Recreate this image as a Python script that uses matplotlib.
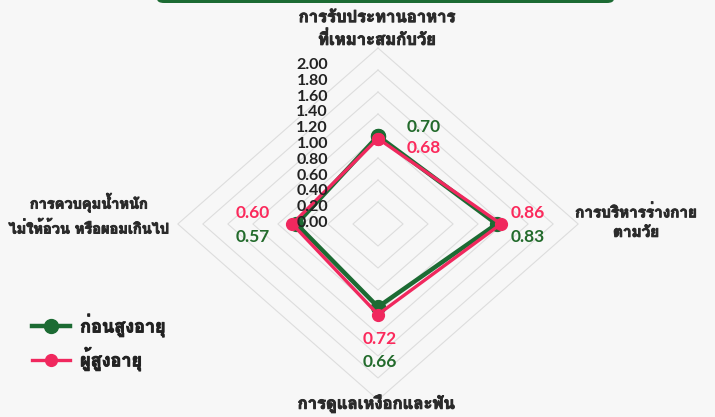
import numpy as np
import matplotlib
matplotlib.use('Agg')
import matplotlib.pyplot as plt
import matplotlib.patheffects as pe
from matplotlib import font_manager
from matplotlib.ft2font import FT2Font
from matplotlib.patches import FancyBboxPatch

# ข้อมูล
axes_names = ['การรับประทานอาหาร\nที่เหมาะสมกับวัย',
              'การบริหารร่างกาย\nตามวัย',
              'การดูแลเหงือกและฟัน',
              'การควบคุมน้ำหนัก\nไม่ให้อ้วน หรือผอมเกินไป']
series_names = ['ก่อนสูงอายุ', 'ผู้สูงอายุ']
before_old = [0.70, 0.83, 0.66, 0.57]
old_age = [0.68, 0.86, 0.72, 0.60]
scale_ticks = [0.00, 0.20, 0.40, 0.60, 0.80, 1.00, 1.20, 1.40, 1.60, 1.80, 2.00]

green = '#1c6b33'
pink = '#f0285e'
green_txt = '#236b2c'
pink_txt = '#fb2a5c'


# หาฟอนต์ที่มีอักษรไทย
def find_thai_font():
    best = None
    for f in font_manager.fontManager.ttflist:
        try:
            cmap = FT2Font(f.fname).get_charmap()
        except Exception:
            continue
        if 0x0E01 in cmap and 0x0E32 in cmap:
            score = 1 if f.weight in ('bold', 700, 600, 'semibold') else 0
            if best is None or score > best[0]:
                best = (score, f.name)
    return best[1] if best else 'DejaVu Sans'


thai = find_thai_font()
thai_fam = [thai, 'DejaVu Sans']
num_fam = ['Lato', 'DejaVu Sans']
thicken = [pe.withStroke(linewidth=0.7, foreground='#2b2b2b')]

fig = plt.figure(figsize=(7.15, 4.17), dpi=100)
fig.patch.set_facecolor('#f7f7f7')
ax = fig.add_axes([0, 0, 1, 1])
ax.set_facecolor('#f7f7f7')
ax.axis('off')

# สเกลแนวนอน/แนวตั้งไม่เท่ากัน
px_x, px_y = 143.0, 125.7
cx, cy = 378.0, 224.0
ax.set_xlim(-cx / px_x, (715 - cx) / px_x)
ax.set_ylim(-(417 - cy) / px_y, cy / px_y)

# มุมของแต่ละแกน: บน ขวา ล่าง ซ้าย
ang = np.pi / 2 - np.arange(len(axes_names)) * 2 * np.pi / len(axes_names)
dx, dy = np.cos(ang), np.sin(ang)

# เส้นกริดรูปข้าวหลามตัด
r_max = 1.4
for r in np.linspace(0, r_max, 9)[1:]:
    ax.plot(np.append(dx, dx[0]) * r, np.append(dy, dy[0]) * r,
            color='#dddddd', lw=0.8, zorder=1)

# ชุดข้อมูล
for vals, col, lw, ms, name in [(before_old, green, 3.2, 10, series_names[0]),
                                (old_age, pink, 2.4, 8.5, series_names[1])]:
    v = np.array(vals)
    ax.plot(np.append(dx * v, dx[0] * v[0]), np.append(dy * v, dy[0] * v[0]),
            color=col, lw=lw, marker='o', ms=ms, label=name, zorder=3)

# ป้ายค่า: (ป้ายบน, ป้ายล่าง) เป็น pixel จากจุดข้อมูลชุดแรก
offsets = [((46, 9), (46, -12)),
           ((31, 11), (31, -13)),
           ((2, -32), (2, -55)),
           ((-44, 11), (-44, -13))]
for i in range(len(axes_names)):
    x0, y0 = dx[i] * before_old[i], dy[i] * before_old[i]
    upper, lower = offsets[i]
    if i == 0:
        g_off, p_off = upper, lower
    else:
        p_off, g_off = upper, lower
    ax.annotate('%.2f' % before_old[i], (x0, y0), xytext=(g_off[0] * 0.72, g_off[1] * 0.72),
                textcoords='offset points', ha='center', va='center',
                color=green_txt, fontsize=12.5, fontweight='bold', family=num_fam)
    ax.annotate('%.2f' % old_age[i], (x0, y0), xytext=(p_off[0] * 0.72, p_off[1] * 0.72),
                textcoords='offset points', ha='center', va='center',
                color=pink_txt, fontsize=12.5, fontweight='bold', family=num_fam)

# ตัวเลขสเกล
for k, t in enumerate(scale_ticks):
    ax.text(328 / 715, 1 - (223 - k * 15.8) / 417, '%.2f' % t, transform=ax.transAxes,
            ha='right', va='center', fontsize=11.5, fontweight='bold',
            color='#222222', family=num_fam, zorder=4)

# ชื่อแกน
lab_kw = dict(fontweight='bold', color='#2b2b2b', family=thai_fam,
              ha='center', va='center', path_effects=thicken)
ax.text(377 / 715, 1 - 29 / 417, axes_names[0], transform=ax.transAxes,
        fontsize=12, linespacing=1.5, **lab_kw)
ax.text(636 / 715, 1 - 222 / 417, axes_names[1], transform=ax.transAxes,
        fontsize=11, linespacing=1.5, **lab_kw)
ax.text(376 / 715, 1 - 404 / 417, axes_names[2], transform=ax.transAxes,
        fontsize=12, **lab_kw)
ax.text(89 / 715, 1 - 215 / 417, axes_names[3], transform=ax.transAxes,
        fontsize=10.5, linespacing=1.75, **lab_kw)

# คำอธิบาย
leg = ax.legend(loc='upper left', bbox_to_anchor=(16 / 715, 1 - 298 / 417),
                frameon=False, handlelength=2.1, handletextpad=0.55, labelspacing=0.55,
                prop={'family': thai_fam, 'size': 13, 'weight': 'bold'})
for t in leg.get_texts():
    t.set_color('#222222')
    t.set_path_effects([pe.withStroke(linewidth=0.7, foreground='#222222')])

# แถบสีเขียวด้านบน
fig.patches.append(FancyBboxPatch((157 / 715, 1 - 3 / 417), 457 / 715, 20 / 417,
                                  boxstyle='round,pad=0,rounding_size=0.01',
                                  transform=fig.transFigure, facecolor=green,
                                  edgecolor='none', zorder=5))

fig.savefig('out.png', dpi=100, facecolor=fig.get_facecolor())
